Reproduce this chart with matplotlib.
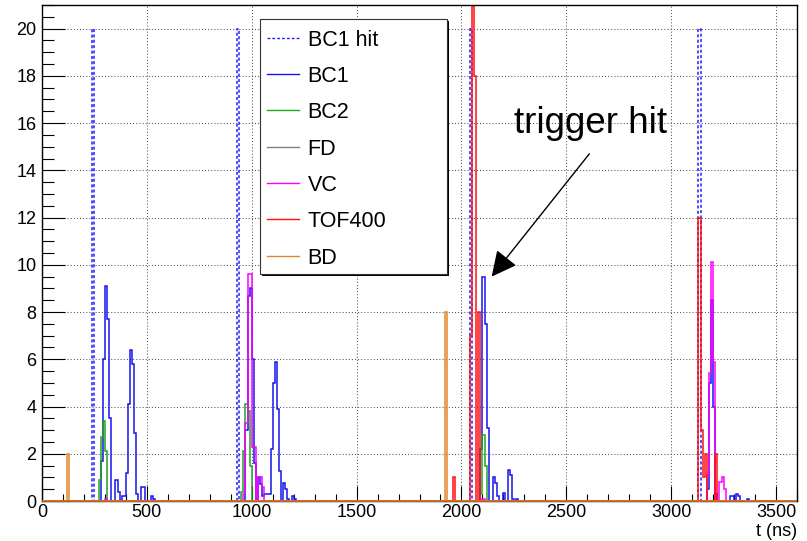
import numpy as np
import matplotlib
matplotlib.use("Agg")
import matplotlib.pyplot as plt
from matplotlib.lines import Line2D
from matplotlib.patches import Rectangle
from matplotlib.ticker import MultipleLocator

plt.rcParams['font.family'] = ['Liberation Sans', 'DejaVu Sans']

# ---------------- data (bin start time in ns, counts) ----------------
T_MIN, T_MAX, BIN_W = 0, 3600, 10
Y_MAX = 21

bc1hit_t = [240, 930, 2040, 3130]
bc1hit_n = [20, 20, 20, 20]

bc1_t = [280, 290, 300, 310, 320, 350, 360, 380, 390, 400, 410, 420, 430, 440, 450, 470, 480, 520, 530,
         970, 980, 990, 1000, 1010, 1030, 1040, 1050, 1060, 1070, 1080, 1090, 1100, 1110, 1120, 1130,
         1150, 1160, 1170, 1190, 1200,
         2090, 2100, 2110, 2120, 2150, 2160, 2170, 2200, 2220, 2230, 2240, 2260,
         3170, 3180, 3190, 3200, 3210, 3280, 3290, 3310, 3320, 3360]
bc1_n = [1.7, 6.0, 9.1, 7.7, 3.5, 0.9, 0.4, 0.2, 0.2, 1.2, 4.1, 6.4, 5.8, 2.9, 0.3, 0.6, 0.6, 0.2, 0.1,
         3.0, 8.7, 9.0, 6.0, 1.6, 1.0, 0.7, 0.2, 0.3, 0.3, 0.3, 2.2, 5.0, 5.9, 3.9, 1.25,
         0.75, 0.5, 0.1, 0.2, 0.1,
         2.2, 9.5, 7.5, 3.1, 1.0, 0.75, 0.2, 0.35, 1.3, 1.1, 0.1, 0.1,
         0.5, 5.0, 8.5, 4.0, 0.3, 0.2, 0.2, 0.3, 0.2, 0.1]

bc2_t = [270, 280, 290, 300, 950, 960, 970, 980, 990, 2090, 2100, 2110]
bc2_n = [0.9, 2.7, 3.4, 2.1, 0.4, 2.1, 4.1, 3.8, 1.5, 0.3, 2.8, 1.5]

fd_t = []
fd_n = []

vc_t = [300, 960, 970, 980, 990, 1000, 1010, 1030, 1040, 1050, 2100,
        3170, 3180, 3190, 3200, 3230, 3240, 3250]
vc_n = [0.1, 0.3, 3.3, 9.6, 9.6, 2.3, 2.3, 1.0, 1.0, 0.6, 0.1,
        1.1, 5.4, 10.1, 5.9, 0.8, 1.0, 0.5]

tof_t = [1960, 2040, 2050, 2060, 2080, 3130, 3140, 3150, 3160, 3210]
tof_n = [1.0, 7.0, 25.0, 18.0, 8.0, 12.0, 3.0, 1.0, 2.0, 2.0]

bd_t = [120, 1920]
bd_n = [2.0, 8.0]

labels = ['BC1 hit', 'BC1', 'BC2', 'FD', 'VC', 'TOF400', 'BD']
colors = ['#2020ff', '#1515ee', '#1fa51f', '#808080', '#ff00ff', '#ff1010', '#e0872a']
styles = [(0, (2.0, 1.5)), '-', '-', '-', '-', '-', '-']

series = [(bc1hit_t, bc1hit_n), (bc1_t, bc1_n), (bc2_t, bc2_n), (fd_t, fd_n),
          (vc_t, vc_n), (tof_t, tof_n), (bd_t, bd_n)]

# ---------------- figure ----------------
W, H = 807, 541
fig = plt.figure(figsize=(W / 100, H / 100), dpi=100)
ax = fig.add_axes([42 / W, 40 / H, 755 / W, 496 / H])

edges = np.arange(T_MIN, T_MAX + BIN_W, BIN_W)
for i, ((t, n), lab, col, ls) in enumerate(zip(series, labels, colors, styles)):
    counts, _ = np.histogram(np.asarray(t, dtype=float), bins=edges,
                             weights=np.asarray(n, dtype=float))
    is_bd = (lab == 'BD')
    ax.stairs(counts, edges, color=col, linestyle=ls, linewidth=1.1,
              baseline=0, zorder=2 + 0.1 * i if not is_bd else 2.8,
              clip_on=not is_bd)

ax.set_xlim(T_MIN, T_MAX)
ax.set_ylim(0, Y_MAX)

ax.xaxis.set_major_locator(MultipleLocator(500))
ax.xaxis.set_minor_locator(MultipleLocator(100))
ax.yaxis.set_major_locator(MultipleLocator(2))
ax.yaxis.set_minor_locator(MultipleLocator(0.5))

ax.tick_params(axis='both', which='both', direction='in', top=False, right=False,
               width=0.8, color='black', labelsize=13)
ax.tick_params(axis='x', which='major', length=10.8, pad=2.5)
ax.tick_params(axis='x', which='minor', length=5.4)
ax.tick_params(axis='y', which='major', length=16.5, pad=4)
ax.tick_params(axis='y', which='minor', length=8.5)

ax.grid(which='major', linestyle=(0, (1, 2)), color='#555555', linewidth=0.75, zorder=1)

for sp in ax.spines.values():
    sp.set_linewidth(1.0)
    sp.set_color('black')

ax.text(1.0, -(531 - 501) / 496, 't (ns)', transform=ax.transAxes, ha='right',
        va='center', fontsize=13)

# annotation
ax.text(2252, 15.6, 'trigger hit', fontsize=26.5, ha='left', va='baseline', zorder=5)
ax.annotate('', xy=(2144, 9.5), xytext=(2610, 14.7),
            arrowprops=dict(arrowstyle='-|>,head_length=0.6,head_width=0.3',
                            color='black', lw=1.0, mutation_scale=26, shrinkA=0, shrinkB=0),
            zorder=5)

# legend (drawn as a ROOT TLegend-like box)
def fx(x):
    return x / W

def fy(y):
    return 1 - y / H

lx0, lx1, ly0, ly1 = 260, 447, 19, 274
fig.add_artist(Rectangle((fx(lx0) + 2 / W, fy(ly1) - 2 / H), (lx1 - lx0) / W, (ly1 - ly0) / H,
                         transform=fig.transFigure, facecolor='black', edgecolor='none', zorder=9))
fig.add_artist(Rectangle((fx(lx0), fy(ly1)), (lx1 - lx0) / W, (ly1 - ly0) / H,
                         transform=fig.transFigure, facecolor='white', edgecolor='#333333',
                         linewidth=0.8, zorder=10))
for i, (lab, col, ls) in enumerate(zip(labels, colors, styles)):
    yy = 37.7 + 36.3 * i
    fig.add_artist(Line2D([fx(267), fx(299)], [fy(yy), fy(yy)], color=col, linestyle=ls,
                          linewidth=1.0, transform=fig.transFigure, zorder=11))
    fig.text(fx(307.5), fy(yy + 8), lab, fontsize=15.5, ha='left', va='baseline', zorder=11)

fig.savefig('out.png', dpi=100)
